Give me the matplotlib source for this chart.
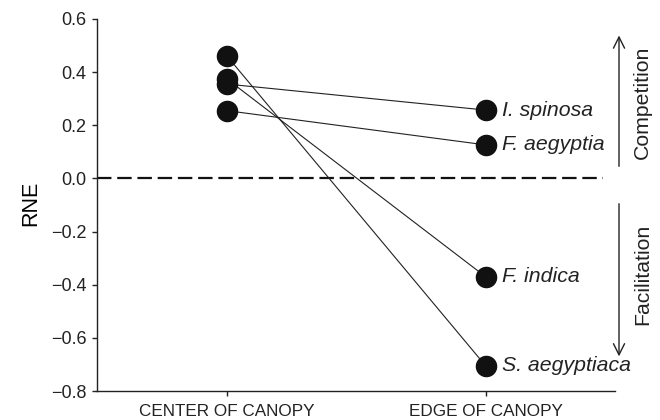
import matplotlib
matplotlib.use("Agg")
import matplotlib.pyplot as plt

categories = ["CENTER OF CANOPY", "EDGE OF CANOPY"]
species = ["I. spinosa", "F. aegyptia", "F. indica", "S. aegyptiaca"]
center_values = [0.355, 0.255, 0.375, 0.462]
edge_values = [0.257, 0.126, -0.370, -0.705]
y_ticks = [-0.8, -0.6, -0.4, -0.2, 0.0, 0.2, 0.4, 0.6]

plt.rcParams['font.family'] = ['Liberation Sans', 'DejaVu Sans']

fig = plt.figure(figsize=(6.6, 4.2), dpi=100)
ax = fig.add_axes([0.147, 0.069, 0.785, 0.886])

x = [0, 1]
for c, e in zip(center_values, edge_values):
    ax.plot(x, [c, e], color='#222222', lw=0.8, zorder=2)
ax.plot([0] * len(center_values), center_values, 'o', color='#111111',
        ms=14.5, zorder=3, clip_on=False)
ax.plot([1] * len(edge_values), edge_values, 'o', color='#111111',
        ms=14.5, zorder=3, clip_on=False)
for s, e in zip(species, edge_values):
    ax.annotate(s, (1, e), xytext=(12, 0), textcoords='offset points',
                ha='left', va='center', fontsize=15.3, style='italic',
                color='#222222')

ax.plot([-0.5, 1.455], [0, 0], color='#111111', lw=1.6,
        dashes=(6.5, 2.6), zorder=1)

ax.set_xlim(-0.5, 1.5)
ax.set_ylim(-0.8, 0.6)
ax.set_xticks(x)
ax.set_xticklabels(categories, fontsize=12.3)
ax.set_yticks(y_ticks)
ax.set_yticklabels([f"{v:.1f}".replace('-', '\u2212') for v in y_ticks], fontsize=13)
ax.set_ylabel("RNE", fontsize=15.5)
ax.yaxis.set_label_coords(-0.108, 0.504)
for sp in ['top', 'right']:
    ax.spines[sp].set_visible(False)
for sp in ['left', 'bottom']:
    ax.spines[sp].set_linewidth(1.0)
    ax.spines[sp].set_color('#222222')
ax.tick_params(axis='both', direction='out', length=3.5, width=1.0,
               colors='#222222', labelcolor='#222222')
ax.tick_params(axis='y', pad=4)
ax.tick_params(axis='x', pad=5.5)

# Competition / Facilitation arrows
ax.annotate("", xy=(1.515, 0.548), xytext=(1.515, 0.035), xycoords='data',
            arrowprops=dict(arrowstyle='->', lw=1.0, color='#222222',
                            mutation_scale=20), annotation_clip=False)
ax.annotate("", xy=(1.515, -0.68), xytext=(1.515, -0.085), xycoords='data',
            arrowprops=dict(arrowstyle='->', lw=1.0, color='#222222',
                            mutation_scale=20), annotation_clip=False)
ax.text(1.605, 0.285, "Competition", rotation=90, ha='center', va='center',
        fontsize=15.3, color='#222222', clip_on=False)
ax.text(1.605, -0.36, "Facilitation", rotation=90, ha='center', va='center',
        fontsize=15.3, color='#222222', clip_on=False)

fig.savefig("out.png", dpi=100)
